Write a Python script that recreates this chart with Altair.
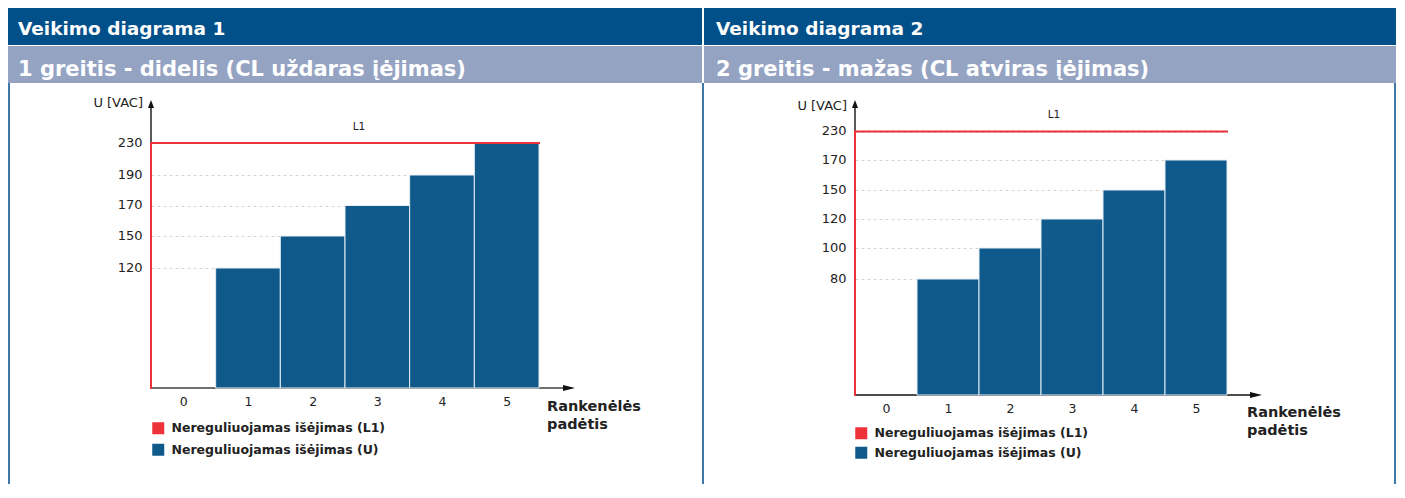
import altair as alt
import pandas as pd

FONT = "DejaVu Sans"
TEXT = "#222222"
RED = "#EE3239"
BLUE = "#0F5A8B"
HEAD_DARK = "#02508A"
HEAD_LIGHT = "#95A3C3"
BORDER = "#3F79AB"

# ---- data -------------------------------------------------------------
titles = ["Veikimo diagrama 1", "Veikimo diagrama 2"]
subtitles = ["1 greitis - didelis (CL uždaras įėjimas)",
             "2 greitis - mažas (CL atviras įėjimas)"]
series_names = ["Nereguliuojamas išėjimas (L1)", "Nereguliuojamas išėjimas (U)"]
y_title = "U [VAC]"
x_title = ["Rankenėlės", "padėtis"]
l1_label = "L1"

positions = [0, 1, 2, 3, 4, 5]
u_positions = [1, 2, 3, 4, 5]
u_values_1 = [120, 150, 170, 190, 230]
u_values_2 = [80, 100, 120, 150, 170]
l1_value = 230
y_ticks_1 = [120, 150, 170, 190, 230]
y_ticks_2 = [80, 100, 120, 150, 170, 230]

one = pd.DataFrame({"k": [0]})


def rect(x0, x1, y0, y1, color):
    return alt.Chart(one).mark_rect(color=color).encode(
        x=alt.value(x0), x2=alt.value(x1), y=alt.value(y0), y2=alt.value(y1))


def rule(x0, x1, y0, y1, color, w):
    return alt.Chart(one).mark_rule(color=color, strokeWidth=w).encode(
        x=alt.value(x0), x2=alt.value(x1), y=alt.value(y0), y2=alt.value(y1))


def label(txt, x, y, size, weight="normal", color=TEXT, align="left",
          baseline="alphabetic", line_height=None):
    kw = dict(text=txt, font=FONT, fontSize=size, fontWeight=weight, color=color,
              align=align, baseline=baseline)
    if line_height:
        kw["lineHeight"] = line_height
    return alt.Chart(one).mark_text(**kw).encode(x=alt.value(x), y=alt.value(y))


def arrow(x, y, path, size):
    return alt.Chart(one).mark_point(shape=path, filled=True, size=size, color="#111111",
                                     opacity=1, strokeWidth=0).encode(
        x=alt.value(x), y=alt.value(y))


def panel(i, u_vals, ticks, W, H, y_range, g):
    xs = alt.Scale(domain=[min(positions) - 0.5, max(positions) + 0.5], nice=False, zero=False)
    ys = alt.Scale(domain=[0] + ticks, range=y_range, nice=False, zero=False)
    cs = alt.Scale(domain=series_names, range=[RED, BLUE])
    xaxis = alt.Axis(values=positions, format="d", title=None, domain=False, ticks=False,
                     tickSize=0, grid=False, labelFont=FONT, labelFontSize=12.5,
                     labelColor=TEXT, labelPadding=7)
    yaxis = alt.Axis(values=ticks, format="d", title=None, domain=False, ticks=False,
                     tickSize=0, grid=True, gridColor="#d4d4d4", gridDash=[3, 3],
                     gridWidth=1, labelFont=FONT, labelFontSize=13, labelColor=TEXT,
                     labelPadding=9, labelOffset=-1)
    legend = alt.Legend(title=None, orient="none", legendX=g["leg"][0], legendY=g["leg"][1],
                        direction="vertical", symbolType="square", symbolSize=144,
                        symbolStrokeWidth=0, symbolOpacity=1, labelFont=FONT,
                        labelFontSize=12.5, labelFontWeight="bold", labelColor=TEXT,
                        labelOffset=7, rowPadding=g["rowpad"], padding=0, labelLimit=500)

    bars = pd.DataFrame({"pos": u_positions, "u": u_vals})
    bars["x0"] = bars["pos"] - 0.5
    bars["x1"] = bars["pos"] + 0.5
    bars["series"] = series_names[1]

    l1 = pd.DataFrame({"x0": [min(positions) - 0.5], "x1": [max(positions) + 0.5],
                       "level": [l1_value], "series": [series_names[0]]})

    bar_layer = alt.Chart(bars).mark_bar(stroke="#e6edf4", strokeWidth=1).encode(
        x=alt.X("x0:Q", scale=xs, axis=xaxis),
        x2="x1:Q",
        y=alt.Y("u:Q", scale=ys, axis=yaxis),
        y2=alt.datum(0),
        color=alt.Color("series:N", scale=cs, legend=legend),
    )
    l1_h = alt.Chart(l1).mark_rule(strokeWidth=2, strokeCap="square").encode(
        x=alt.X("x0:Q", scale=xs, axis=xaxis),
        x2="x1:Q",
        y=alt.Y("level:Q", scale=ys, axis=yaxis),
        color=alt.Color("series:N", scale=cs, legend=None),
    )
    l1_v = alt.Chart(l1).mark_rule(strokeWidth=2, strokeCap="square").encode(
        x=alt.X("x0:Q", scale=xs, axis=xaxis),
        y=alt.Y("level:Q", scale=ys, axis=yaxis),
        y2=alt.datum(0),
        color=alt.Color("series:N", scale=cs, legend=None),
    )

    hx0, hx1 = g["head"]
    layers = [
        rect(hx0, hx1, 0, 37, HEAD_DARK),
        rect(hx0, hx1, 38, 75, HEAD_LIGHT),
        label(titles[i], g["tx"], 27, 18.5, "bold", "white"),
        label(subtitles[i], g["tx"], 68, 21, "bold", "white"),
    ]
    for (bx, w) in g["borders"]:
        layers.append(rule(bx, bx, 75, 476, BORDER, w))
    layers += [
        rule(0, 0, 96, H, "#222222", 1.5),
        arrow(0, 96, "M0,-1L-0.75,1L0.75,1Z", 64),
        rule(0, g["xtip"] - 6, H, H, g["xcol"], g["xw"]),
        arrow(g["xtip"] - 6, H, "M1,0L-1,-0.5L-1,0.5Z", 144),
        bar_layer,
        l1_v,
        l1_h,
        label(y_title, -8, g["ut"], 13, align="right", baseline="middle"),
        label(l1_label, g["l1"][0], g["l1"][1], 10.5, align="center", baseline="middle"),
        label(x_title, g["xt"][0], g["xt"][1], 14.5, "bold", line_height=18),
    ]
    return alt.layer(*layers).properties(width=W, height=H)


g1 = dict(head=(-143, 551), tx=-133, borders=[(-142, 2), (552, 2)], xtip=424,
          xcol="#707070", xw=2, ut=95, l1=(208, 119), xt=(396, 403), leg=(1, 414),
          rowpad=8.5)
g2 = dict(head=(-151, 541), tx=-139, borders=[(540, 2)], xtip=407,
          xcol="#111111", xw=1.5, ut=98, l1=(199, 107), xt=(392, 409), leg=(0, 419),
          rowpad=6.5)

p1 = panel(0, u_values_1, y_ticks_1, 388, 380, [380, 260, 228, 197.5, 167, 135], g1)
p2 = panel(1, u_values_2, y_ticks_2, 372, 387, [387, 271, 240, 211, 182, 152, 123.5], g2)

chart = alt.hconcat(p1, p2, spacing=316, bounds="flush", padding=0,
                    background="white").resolve_scale(
    color="independent", x="independent", y="independent"
).resolve_legend(color="independent").configure_view(stroke=None)

chart.save("out.html", embed_options={"renderer": "svg", "actions": False})
